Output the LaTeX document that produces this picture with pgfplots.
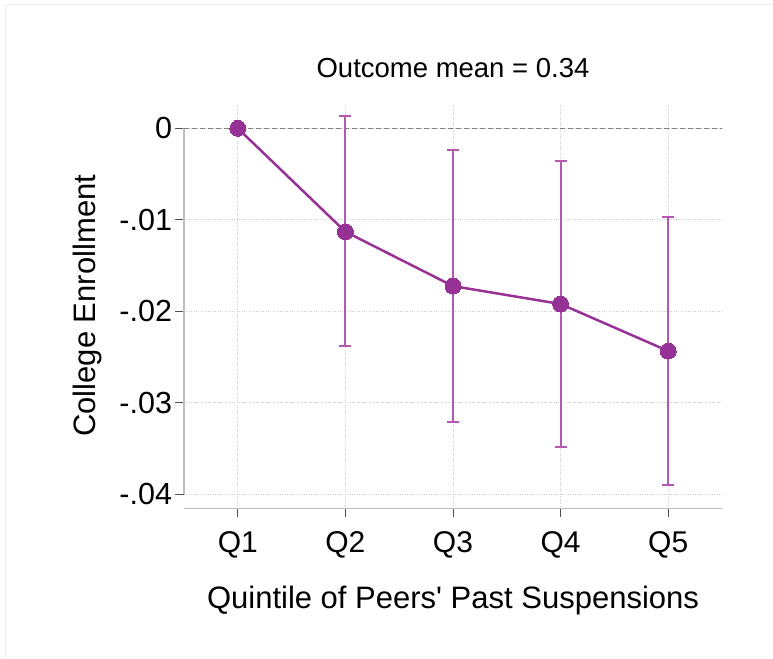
\documentclass[border=0pt]{standalone}
\usepackage{pgfplots}
\pgfplotsset{compat=1.18}
\usepackage{fontspec}
\setmainfont{Liberation Sans}
\definecolor{mainpurple}{RGB}{150,50,150}
\definecolor{barpurple}{RGB}{180,88,180}
\definecolor{gridgray}{RGB}{205,205,205}
\definecolor{axisgray}{RGB}{190,190,190}
\definecolor{tickgray}{RGB}{80,80,80}
\begin{document}
\begin{tikzpicture}
\begin{axis}[
  at={(0pt,0pt)}, anchor=south west,
  scale only axis, width=538pt, height=405.5pt,
  xmin=0.5, xmax=5.5, ymin=-0.04155, ymax=0.00277,
  axis line style={draw=none},
  scaled y ticks=false,
  xtick={1,2,3,4,5}, xticklabels={Q1,Q2,Q3,Q4,Q5},
  ytick={-0.04,-0.03,-0.02,-0.01,0}, yticklabels={-.04,-.03,-.02,-.01,0},
  tick pos=left, tick align=outside, major tick length=8.5pt,
  tick style={tickgray, line width=1pt},
  grid=major, major grid style={gridgray, dotted, line width=0.9pt},
  /pgf/number format/assume math mode=true,
  xticklabel style={font=\fontsize{30}{36}\selectfont, anchor=base, yshift=-35pt},
  yticklabel style={font=\fontsize{30.5}{36}\selectfont, anchor=east},
  title={Outcome mean = 0.34},
  title style={font=\fontsize{27.5}{33}\selectfont, at={(axis description cs:0.5,1.049)}, anchor=base},
  xlabel={Quintile of Peers\textquotesingle{} Past Suspensions},
  xlabel style={font=\fontsize{31}{37}\selectfont, at={(axis description cs:0.5,-0.2454)}, anchor=base},
  ylabel={College Enrollment},
  ylabel style={font=\fontsize{31}{37}\selectfont, at={(axis description cs:-0.1654,0.5)}, anchor=base},
  clip=false,
]
\draw[axisgray, line width=1.3pt] (axis cs:0.5,0) -- (axis cs:0.5,-0.04);
\draw[axisgray, line width=1.3pt] (axis cs:0.5,-0.04155) -- (axis cs:5.5,-0.04155);
\draw[gray, line width=1pt, dash pattern=on 5pt off 3pt] (axis cs:0.5,0) -- (axis cs:5.5,0);
\addplot[color=barpurple, only marks, mark=none,
  error bars/.cd, y dir=both, y explicit,
  error bar style={color=barpurple, line width=2pt},
  error mark options={color=barpurple, rotate=90, mark size=6pt, line width=2pt}]
  table[x=x, y=y, y error plus=ep, y error minus=em] {
x y ep em
1 0 0 0
2 -0.0113 0.01268 0.0125
3 -0.01724 0.01487 0.01489
4 -0.0192 0.01563 0.0156
5 -0.02434 0.01465 0.01466
};
\addplot[color=mainpurple, line width=2.5pt, mark=*, mark size=8pt,
  mark options={fill=mainpurple, draw=mainpurple, line width=0pt}]
  table[x=x, y=y] {
x y
1 0
2 -0.0113
3 -0.01724
4 -0.0192
5 -0.02434
};
\end{axis}
\draw[black!6, line width=1pt] (-178pt,-149.5pt) -- (-178pt,503.5pt) -- (589pt,503.5pt);
\pgfresetboundingbox
\path (-184pt,-149.5pt) rectangle (589pt,508.5pt);
\end{tikzpicture}
\end{document}
